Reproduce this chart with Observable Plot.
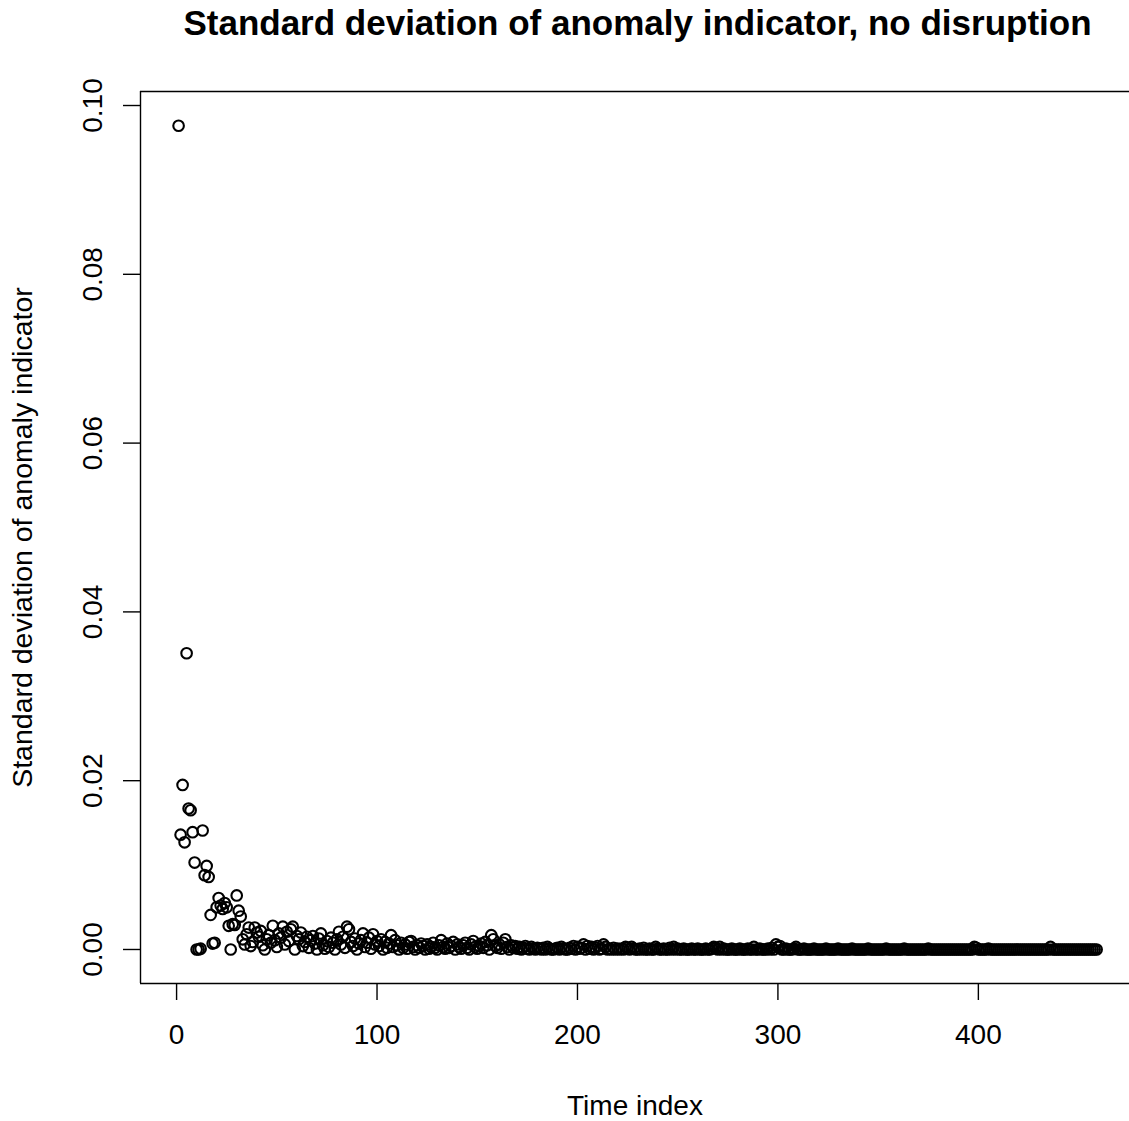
<!DOCTYPE html>
<html>
<head>
<meta charset="utf-8">
<script src="https://cdn.jsdelivr.net/npm/d3@7"></script>
<script src="https://cdn.jsdelivr.net/npm/@observablehq/plot@0.6"></script>
<style>
  html, body { margin: 0; padding: 0; background: #fff; }
  #wrap { position: relative; width: 1129px; height: 1121px; overflow: hidden; font-family: "Liberation Sans", Arial, sans-serif; }
  #title { position: absolute; left: 140px; top: 0; width: 995px; height: 46px; line-height: 46px; text-align: center; font-weight: bold; font-size: 35px; color: #000; white-space: nowrap; }
  #chart { position: absolute; left: 0; top: 46px; }
</style>
</head>
<body>
<div id="wrap">
  <div id="title"></div>
  <div id="chart"></div>
</div>
<script>
const title = "Standard deviation of anomaly indicator, no disruption";
const xLabel = "Time index";
const yLabel = "Standard deviation of anomaly indicator";
const xTicks = [0, 100, 200, 300, 400];
const xTickLabels = ["0", "100", "200", "300", "400"];
const yTicks = [0, 0.02, 0.04, 0.06, 0.08, 0.10];
const yTickLabels = ["0.00", "0.02", "0.04", "0.06", "0.08", "0.10"];

// standard deviation at time index 1, 2, 3, ...
const sdValues = [
  0.0976, 0.0136, 0.0195, 0.0127, 0.0351, 0.0167, 0.0165, 0.0139, 0.0103, 0.0000,
  0.0000, 0.0001, 0.0141, 0.0088, 0.0099, 0.0086, 0.0041, 0.0007, 0.0008, 0.0050,
  0.0061, 0.0052, 0.0048, 0.0055, 0.0050, 0.0028, 0.0000, 0.0030, 0.0029, 0.0064,
  0.0046, 0.0039, 0.0012, 0.0006, 0.0018, 0.0026, 0.0004, 0.0009, 0.0026, 0.0020,
  0.0015, 0.0022, 0.0005, 0.0000, 0.0012, 0.0017, 0.0008, 0.0028, 0.0011, 0.0003,
  0.0019, 0.0014, 0.0027, 0.0006, 0.0021, 0.0010, 0.0024, 0.0027, 0.0000, 0.0016,
  0.0012, 0.0020, 0.0004, 0.0009, 0.0015, 0.0002, 0.0011, 0.0016, 0.0007, 0.0000,
  0.0013, 0.0019, 0.0005, 0.0001, 0.0010, 0.0003, 0.0014, 0.0008, 0.0000, 0.0012,
  0.0021, 0.0006, 0.0015, 0.0002, 0.0027, 0.0024, 0.0009, 0.0004, 0.0013, 0.0000,
  0.0007, 0.0011, 0.0019, 0.0003, 0.0008, 0.0014, 0.0001, 0.0018, 0.0006, 0.0010,
  0.0004, 0.0012, 0.0000, 0.0009, 0.0002, 0.0007, 0.0017, 0.0003, 0.0011, 0.0005,
  0.0000, 0.0008, 0.0002, 0.0006, 0.0001, 0.0009, 0.0010, 0.0003, 0.0000, 0.0005,
  0.0002, 0.0007, 0.0004, 0.0000, 0.0006, 0.0001, 0.0003, 0.0008, 0.0002, 0.0000,
  0.0005, 0.0011, 0.0003, 0.0001, 0.0007, 0.0002, 0.0004, 0.0009, 0.0000, 0.0006,
  0.0003, 0.0001, 0.0005, 0.0008, 0.0002, 0.0000, 0.0006, 0.0010, 0.0003, 0.0001,
  0.0004, 0.0007, 0.0002, 0.0009, 0.0005, 0.0000, 0.0017, 0.0012, 0.0004, 0.0002,
  0.0006, 0.0001, 0.0008, 0.0012, 0.0003, 0.0000, 0.0005, 0.0002, 0.0004, 0.0001,
  0.0003, 0.0000, 0.0002, 0.0004, 0.0001, 0.0000, 0.0003, 0.0001, 0.0000, 0.0002,
  0.0001, 0.0000, 0.0002, 0.0000, 0.0003, 0.0001, 0.0000, 0.0000, 0.0001, 0.0002,
  0.0000, 0.0003, 0.0001, 0.0000, 0.0000, 0.0002, 0.0001, 0.0004, 0.0000, 0.0003,
  0.0001, 0.0002, 0.0006, 0.0000, 0.0004, 0.0001, 0.0003, 0.0000, 0.0002, 0.0004,
  0.0000, 0.0001, 0.0006, 0.0003, 0.0000, 0.0001, 0.0000, 0.0002, 0.0000, 0.0001,
  0.0000, 0.0001, 0.0000, 0.0003, 0.0002, 0.0000, 0.0003, 0.0001, 0.0000, 0.0000,
  0.0001, 0.0000, 0.0002, 0.0000, 0.0000, 0.0001, 0.0000, 0.0000, 0.0003, 0.0001,
  0.0000, 0.0000, 0.0001, 0.0000, 0.0000, 0.0002, 0.0000, 0.0003, 0.0000, 0.0001,
  0.0000, 0.0000, 0.0001, 0.0000, 0.0000, 0.0000, 0.0001, 0.0000, 0.0000, 0.0001,
  0.0000, 0.0000, 0.0000, 0.0001, 0.0000, 0.0000, 0.0001, 0.0003, 0.0002, 0.0000,
  0.0003, 0.0000, 0.0001, 0.0000, 0.0000, 0.0000, 0.0001, 0.0000, 0.0000, 0.0000,
  0.0001, 0.0000, 0.0000, 0.0000, 0.0001, 0.0000, 0.0000, 0.0003, 0.0000, 0.0000,
  0.0001, 0.0000, 0.0000, 0.0000, 0.0001, 0.0000, 0.0002, 0.0000, 0.0006, 0.0003,
  0.0004, 0.0000, 0.0000, 0.0001, 0.0000, 0.0000, 0.0000, 0.0001, 0.0003, 0.0000,
  0.0000, 0.0000, 0.0001, 0.0000, 0.0000, 0.0000, 0.0000, 0.0001, 0.0000, 0.0000,
  0.0000, 0.0000, 0.0000, 0.0001, 0.0000, 0.0000, 0.0000, 0.0000, 0.0000, 0.0001,
  0.0000, 0.0000, 0.0000, 0.0000, 0.0000, 0.0000, 0.0001, 0.0000, 0.0000, 0.0000,
  0.0000, 0.0000, 0.0000, 0.0000, 0.0001, 0.0000, 0.0000, 0.0000, 0.0000, 0.0000,
  0.0000, 0.0000, 0.0000, 0.0001, 0.0000, 0.0000, 0.0000, 0.0000, 0.0000, 0.0000,
  0.0000, 0.0000, 0.0001, 0.0000, 0.0000, 0.0000, 0.0000, 0.0000, 0.0000, 0.0000,
  0.0000, 0.0000, 0.0000, 0.0000, 0.0001, 0.0000, 0.0000, 0.0000, 0.0000, 0.0000,
  0.0000, 0.0000, 0.0000, 0.0000, 0.0000, 0.0000, 0.0000, 0.0000, 0.0000, 0.0000,
  0.0000, 0.0000, 0.0000, 0.0000, 0.0000, 0.0000, 0.0000, 0.0003, 0.0002, 0.0000,
  0.0000, 0.0000, 0.0000, 0.0000, 0.0001, 0.0000, 0.0000, 0.0000, 0.0000, 0.0000,
  0.0000, 0.0000, 0.0000, 0.0000, 0.0000, 0.0000, 0.0000, 0.0000, 0.0000, 0.0000,
  0.0000, 0.0000, 0.0000, 0.0000, 0.0000, 0.0000, 0.0000, 0.0000, 0.0000, 0.0000,
  0.0000, 0.0000, 0.0000, 0.0000, 0.0000, 0.0003, 0.0000, 0.0000, 0.0000, 0.0000,
  0.0000, 0.0000, 0.0000, 0.0000, 0.0000, 0.0000, 0.0000, 0.0000, 0.0000, 0.0000,
  0.0000, 0.0000, 0.0000, 0.0000, 0.0000, 0.0000, 0.0000, 0.0000, 0.0000
];

const data = sdValues.map((v, i) => ({t: i + 1, sd: v}));

const xDomain = [-18, 475.4];
const yDomain = [-0.00403, 0.10166];
const fontFamily = '"Liberation Sans", Arial, sans-serif';
const ink = "#000";

document.getElementById("title").textContent = title;

const plot = Plot.plot({
  width: 1129,
  height: 1075,
  marginTop: 45,
  marginBottom: 138,
  marginLeft: 140,
  marginRight: 0,
  style: {fontFamily, fontSize: "28px", color: ink, background: "#fff", overflow: "visible"},
  x: {domain: xDomain, range: [140, 1129]},
  y: {domain: yDomain},
  marks: [
    Plot.ruleY([yDomain[0]], {stroke: ink, strokeWidth: 1.4}),
    Plot.ruleY([yDomain[1]], {stroke: ink, strokeWidth: 1.4}),
    Plot.ruleX([xDomain[0]], {stroke: ink, strokeWidth: 1.4}),
    Plot.axisX({ticks: xTicks, tickFormat: (d) => xTickLabels[xTicks.indexOf(d)], tickSize: 17, tickPadding: 24, fontSize: 28, label: null, stroke: ink, strokeWidth: 1.4}),
    Plot.axisY({ticks: yTicks, tickFormat: () => "", tickSize: 17, label: null, stroke: ink, strokeWidth: 1.4}),
    Plot.text(yTicks, {frameAnchor: "left", y: (d) => d, text: (d, i) => yTickLabels[i], rotate: -90, dx: -47, textAnchor: "middle", lineAnchor: "middle", fontSize: 28, fill: ink}),
    Plot.text([xLabel], {frameAnchor: "bottom", text: (d) => d, dy: 123, lineAnchor: "middle", textAnchor: "middle", fontSize: 28, fill: ink}),
    Plot.text([yLabel], {frameAnchor: "left", text: (d) => d, rotate: -90, dx: -118, lineAnchor: "middle", textAnchor: "middle", fontSize: 28.5, fill: ink}),
    Plot.dot(data, {x: "t", y: "sd", r: 5.3, fill: "none", stroke: ink, strokeWidth: 2.1})
  ]
});
document.getElementById("chart").appendChild(plot);
</script>
</body>
</html>
